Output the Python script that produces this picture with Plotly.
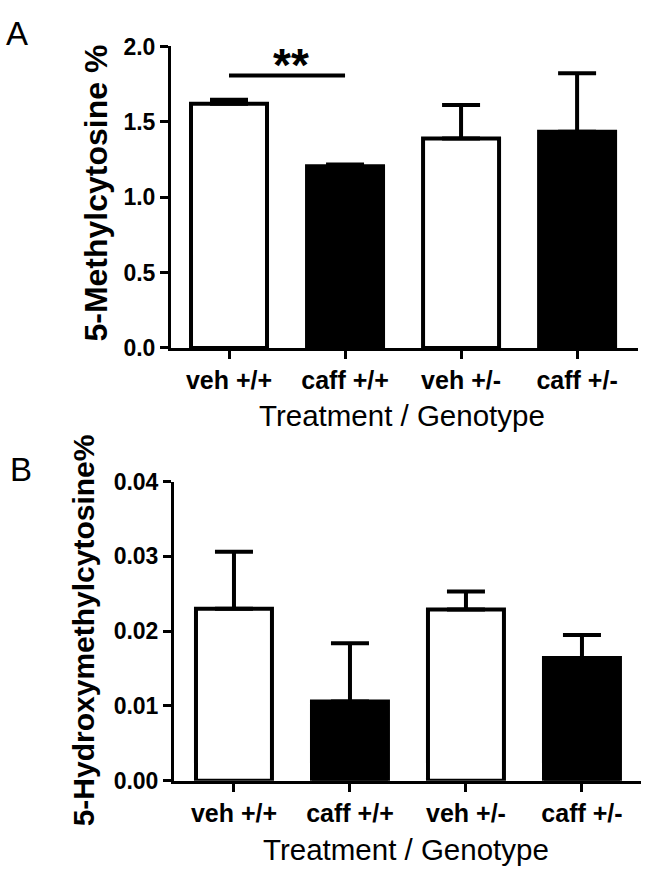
import plotly.graph_objects as go

categories = ["veh +/+", "caff +/+", "veh +/-", "caff +/-"]
fills = ["white", "black", "white", "black"]

# Panel A: 5-Methylcytosine %
mc_mean = [1.62, 1.205, 1.39, 1.435]
mc_err = [0.027, 0.012, 0.222, 0.388]
mc_ticks = [0.0, 0.5, 1.0, 1.5, 2.0]
mc_ticktext = ["0.0", "0.5", "1.0", "1.5", "2.0"]
sig_y = 1.808
sig_label = "**"

# Panel B: 5-Hydroxymethylcytosine %
hmc_mean = [0.0230, 0.0106, 0.0229, 0.0164]
hmc_err = [0.0076, 0.0078, 0.0024, 0.0031]
hmc_ticks = [0.00, 0.01, 0.02, 0.03, 0.04]
hmc_ticktext = ["0.00", "0.01", "0.02", "0.03", "0.04"]

FONT = "Liberation Sans, Arial, Helvetica, sans-serif"
W, H = 648, 886

def px_x(v):
    return v / W

def px_y(v):
    return 1 - v / H

fig = go.Figure()

fig.add_trace(go.Bar(
    x=categories, y=mc_mean, width=0.655,
    marker=dict(color=fills, line=dict(color="black", width=4)),
    error_y=dict(type="data", symmetric=False, array=mc_err,
                 arrayminus=[0] * len(mc_err), color="black",
                 thickness=4, width=19),
    xaxis="x", yaxis="y", showlegend=False,
))
fig.add_trace(go.Bar(
    x=categories, y=hmc_mean, width=0.655,
    marker=dict(color=fills, line=dict(color="black", width=4)),
    error_y=dict(type="data", symmetric=False, array=hmc_err,
                 arrayminus=[0] * len(hmc_err), color="black",
                 thickness=4, width=19),
    xaxis="x2", yaxis="y2", showlegend=False,
))

axis_common = dict(
    showline=True, linewidth=3, linecolor="black", mirror=False,
    ticks="outside", ticklen=8, tickwidth=3, tickcolor="black",
    showgrid=False, zeroline=False,
)

XTICK = dict(size=25, family=FONT, weight="bold")
YTICK = dict(size=23, family=FONT, weight="bold")

fig.update_layout(
    width=W, height=H,
    margin=dict(l=0, r=0, t=0, b=0),
    paper_bgcolor="white", plot_bgcolor="white",
    font=dict(family=FONT, color="black"),
    xaxis=dict(**axis_common, domain=[px_x(171), px_x(638)],
               type="category", categoryorder="array", categoryarray=categories,
               range=[-0.5, 3.525], anchor="y", tickfont=XTICK),
    yaxis=dict(**axis_common, domain=[px_y(345), px_y(34.5)],
               range=[0, 2.0], tickvals=mc_ticks, ticktext=mc_ticktext,
               anchor="x", tickfont=YTICK),
    xaxis2=dict(**axis_common, domain=[px_x(174), px_x(641)],
                type="category", categoryorder="array", categoryarray=categories,
                range=[-0.517, 3.509], anchor="y2", tickfont=XTICK),
    yaxis2=dict(**axis_common, domain=[px_y(791), px_y(482.7)],
                range=[0, 0.04], tickvals=hmc_ticks, ticktext=hmc_ticktext,
                anchor="x2", tickfont=YTICK),
)

# significance bar
fig.add_shape(type="line", xref="x", yref="y", x0=0, x1=1, y0=sig_y, y1=sig_y,
              line=dict(color="black", width=4))
fig.add_annotation(xref="x", yref="y", x=0.53, y=sig_y, yshift=10,
                   text=sig_label, showarrow=False, xanchor="center", yanchor="middle",
                   font=dict(size=46, family=FONT, weight="bold"))

# axis titles
fig.add_annotation(xref="paper", yref="paper", x=px_x(96), y=px_y(186),
                   text="5-Methylcytosine %", textangle=-90, showarrow=False,
                   xanchor="center", yanchor="middle",
                   font=dict(size=32, family=FONT, weight="bold"))
fig.add_annotation(xref="paper", yref="paper", x=px_x(83), y=px_y(636),
                   text="5-Hydroxymethylcytosine%", textangle=-90, showarrow=False,
                   xanchor="center", yanchor="middle",
                   font=dict(size=30, family=FONT, weight="bold"))
fig.add_annotation(xref="paper", yref="paper", x=px_x(402), y=px_y(415),
                   text="Treatment / Genotype", showarrow=False,
                   xanchor="center", yanchor="middle",
                   font=dict(size=29.5, family=FONT))
fig.add_annotation(xref="paper", yref="paper", x=px_x(406), y=px_y(862),
                   text="Treatment / Genotype", showarrow=False,
                   xanchor="center", yanchor="middle",
                   font=dict(size=29.5, family=FONT))

# panel labels
fig.add_annotation(xref="paper", yref="paper", x=px_x(17), y=px_y(21),
                   text="A", showarrow=False, xanchor="center", yanchor="middle",
                   font=dict(size=33, family=FONT))
fig.add_annotation(xref="paper", yref="paper", x=px_x(21), y=px_y(470),
                   text="B", showarrow=False, xanchor="center", yanchor="middle",
                   font=dict(size=33, family=FONT))

fig.write_html("out.html", config={"displayModeBar": False},
               post_script="document.body.style.margin='0';")
